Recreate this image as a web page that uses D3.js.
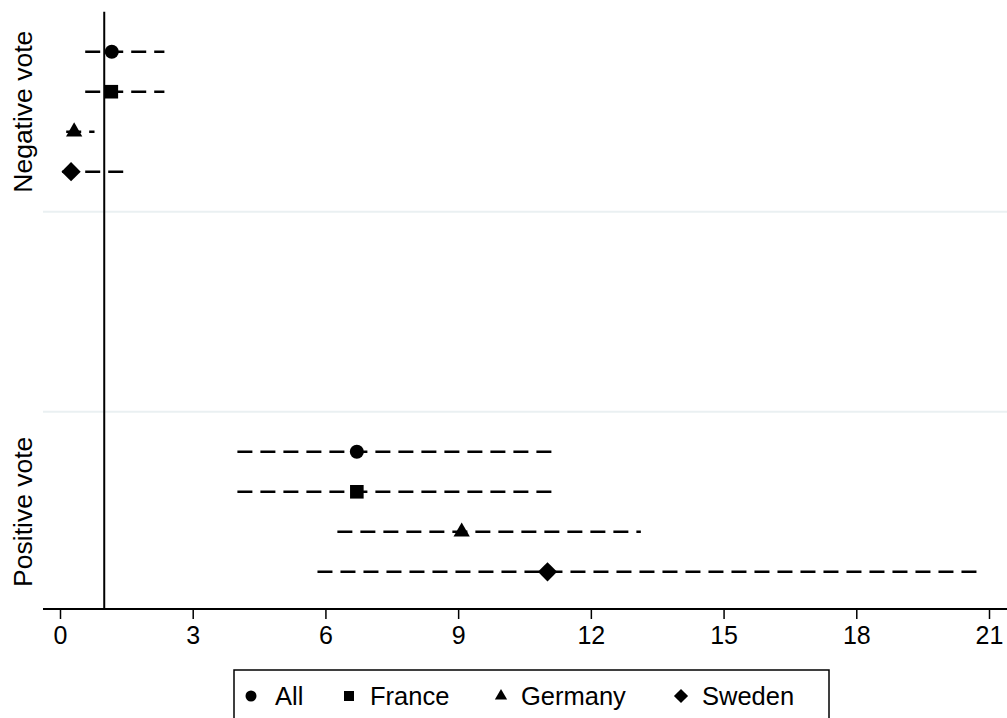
<!DOCTYPE html>
<html>
<head>
<meta charset="utf-8">
<script src="https://cdn.jsdelivr.net/npm/d3@7"></script>
<style>
  html, body { margin: 0; padding: 0; background: #ffffff; }
  svg { display: block; }
  text { font-family: "Liberation Sans", Arial, Helvetica, sans-serif; fill: #000; }
</style>
</head>
<body>
<svg id="chart" width="1007" height="718"></svg>
<script>
// ---- data ----
const categories = ["All", "France", "Germany", "Sweden"];
const groups = ["Negative vote", "Positive vote"];
const negEst = [1.17, 1.16, 0.32, 0.25];
const negLo  = [0.57, 0.57, 0.14, 0.05];
const negHi  = [2.36, 2.36, 0.78, 1.43];
const posEst = [6.71, 6.71, 9.08, 11.02];
const posLo  = [4.01, 4.01, 6.27, 5.82];
const posHi  = [11.13, 11.13, 13.13, 20.78];
const xTicks = [0, 3, 6, 9, 12, 15, 18, 21];
const refValue = 1;

// ---- layout ----
const plotLeft = 43, plotRight = 1007, axisY = 609, plotTop = 11.7;
const svg = d3.select("#chart");

const x = d3.scaleLinear().domain([0, 21]).range([60, 989]);
const y = d3.scaleLinear().domain([0, 14.93]).range([plotTop, axisY]);
const groupOffset = [0, 10];
const rowPos = (g, i) => groupOffset[g] + 1 + i;

const rows = [];
[[negEst, negLo, negHi], [posEst, posLo, posHi]].forEach((arr, g) => {
  categories.forEach((c, i) => {
    rows.push({ g, i, cat: c, est: arr[0][i], lo: arr[1][i], hi: arr[2][i] });
  });
});

// group separator gridlines
const gridColor = "#eaf0f2";
[5, 10].forEach(v => {
  svg.append("line")
    .attr("x1", plotLeft).attr("x2", plotRight)
    .attr("y1", y(v)).attr("y2", y(v))
    .attr("stroke", gridColor).attr("stroke-width", 2);
});

// reference line at x = 1
svg.append("line")
  .attr("x1", x(refValue)).attr("x2", x(refValue))
  .attr("y1", y(0)).attr("y2", axisY)
  .attr("stroke", "#000").attr("stroke-width", 2);

// CI dashed lines
svg.append("g").selectAll("line").data(rows).join("line")
  .attr("x1", d => x(d.lo)).attr("x2", d => x(d.hi))
  .attr("y1", d => y(rowPos(d.g, d.i))).attr("y2", d => y(rowPos(d.g, d.i)))
  .attr("stroke", "#000").attr("stroke-width", 2.6)
  .attr("stroke-dasharray", "15,8");

// markers
const symTypes = [d3.symbolCircle, d3.symbolSquare, d3.symbolTriangle, d3.symbolSquare];
const symSizes = [155, 185, 115, 185];
const symRot = [0, 0, 0, 45];
svg.append("g").selectAll("path").data(rows).join("path")
  .attr("d", d => d3.symbol().type(symTypes[d.i]).size(symSizes[d.i])())
  .attr("transform", d => `translate(${x(d.est)},${y(rowPos(d.g, d.i))}) rotate(${symRot[d.i]})`)
  .attr("fill", "#000");

// x axis
const xAxis = d3.axisBottom(x).tickValues(xTicks).tickSize(10).tickPadding(7).tickSizeOuter(0);
const ax = svg.append("g").attr("transform", `translate(0,${axisY})`).call(xAxis);
ax.select(".domain").remove();
ax.append("line").attr("x1", plotLeft).attr("x2", plotRight).attr("y1", 0).attr("y2", 0)
  .attr("stroke", "#000").attr("stroke-width", 2);
ax.selectAll(".tick line").attr("stroke", "#000").attr("stroke-width", 1.5);
ax.selectAll(".tick text").attr("font-size", 25).attr("fill", "#000")
  .style("font-family", '"Liberation Sans", Arial, sans-serif');

// group labels
groups.forEach((gname, g) => {
  const yc = y(groupOffset[g] + 2.5);
  svg.append("text")
    .attr("transform", `translate(32,${yc}) rotate(-90)`)
    .attr("text-anchor", "middle")
    .attr("font-size", 26.5)
    .text(gname);
});

// legend
const legend = svg.append("g");
legend.append("rect")
  .attr("x", 234).attr("y", 670).attr("width", 595).attr("height", 60)
  .attr("fill", "#fff").attr("stroke", "#000").attr("stroke-width", 1.5);
const legMarkX = [251, 349, 501, 681];
const legTextX = [275, 370, 521, 702];
const legSizes = [95, 100, 65, 100];
const legY = 696;
categories.forEach((c, i) => {
  legend.append("path")
    .attr("d", d3.symbol().type(symTypes[i]).size(legSizes[i])())
    .attr("transform", `translate(${legMarkX[i]},${legY}) rotate(${symRot[i]})`)
    .attr("fill", "#000");
  legend.append("text")
    .attr("x", legTextX[i]).attr("y", legY)
    .attr("dy", "0.35em")
    .attr("font-size", 25.5)
    .text(c);
});
</script>
</body>
</html>
